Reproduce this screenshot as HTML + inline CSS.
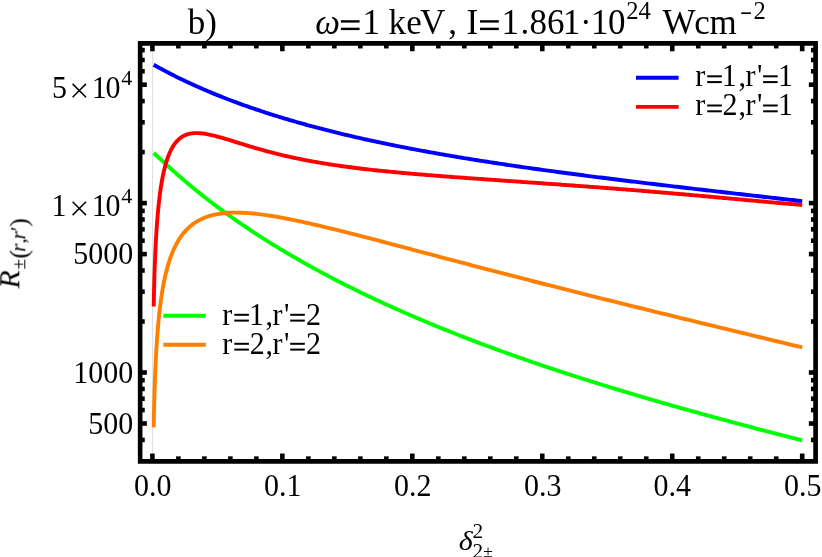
<!DOCTYPE html>
<html><head><meta charset="utf-8"><title>plot</title>
<style>html,body{margin:0;padding:0;background:#fff;}body{width:822px;height:557px;position:relative;overflow:hidden;font-family:"Liberation Serif",serif;}</style></head>
<body>
<svg width="822" height="557" viewBox="0 0 822 557" style="display:block;position:absolute;left:0;top:0">
<rect width="822" height="557" fill="#fff"/>
<line x1="152.6" y1="45" x2="152.6" y2="459" stroke="#dadada" stroke-width="0.9"/>
<path d="M153.70,153.29 L153.73,153.30 L153.75,153.32 L153.78,153.34 L153.81,153.36 L153.83,153.38 L153.86,153.40 L153.89,153.42 L153.92,153.44 L153.95,153.46 L153.98,153.48 L154.01,153.50 L154.05,153.53 L154.08,153.55 L154.11,153.57 L154.15,153.60 L154.18,153.63 L154.22,153.65 L154.25,153.68 L154.29,153.71 L154.33,153.73 L154.36,153.76 L154.40,153.79 L154.44,153.82 L154.48,153.86 L154.52,153.89 L154.57,153.92 L154.61,153.95 L154.65,153.99 L154.70,154.02 L154.74,154.06 L154.79,154.10 L154.84,154.14 L154.89,154.18 L154.94,154.22 L154.99,154.26 L155.04,154.30 L155.09,154.34 L155.14,154.39 L155.20,154.43 L155.25,154.48 L155.31,154.52 L155.37,154.57 L155.43,154.62 L155.49,154.67 L155.55,154.72 L155.61,154.78 L155.67,154.83 L155.74,154.89 L155.81,154.94 L155.87,155.00 L155.94,155.06 L156.01,155.12 L156.08,155.18 L156.16,155.25 L156.23,155.31 L156.31,155.38 L156.39,155.45 L156.46,155.52 L156.54,155.59 L156.63,155.66 L156.71,155.73 L156.80,155.81 L156.88,155.89 L156.97,155.96 L157.06,156.05 L157.16,156.13 L157.25,156.21 L157.35,156.30 L157.45,156.39 L157.55,156.48 L157.65,156.57 L157.75,156.66 L157.86,156.76 L157.97,156.86 L158.08,156.96 L158.19,157.06 L158.30,157.16 L158.42,157.27 L158.54,157.38 L158.66,157.49 L158.79,157.60 L158.91,157.72 L159.04,157.84 L159.18,157.96 L159.31,158.08 L159.45,158.21 L159.59,158.33 L159.73,158.47 L159.88,158.60 L160.02,158.74 L160.18,158.87 L160.33,159.02 L160.49,159.16 L160.65,159.31 L160.81,159.46 L160.98,159.61 L161.15,159.77 L161.32,159.93 L161.50,160.10 L161.68,160.26 L161.86,160.43 L162.05,160.61 L162.24,160.78 L162.44,160.96 L162.64,161.15 L162.84,161.34 L163.05,161.53 L163.26,161.72 L163.48,161.92 L163.70,162.13 L163.92,162.33 L164.15,162.54 L164.38,162.76 L164.62,162.98 L164.86,163.20 L165.11,163.43 L165.36,163.66 L165.62,163.90 L165.88,164.14 L166.15,164.39 L166.42,164.64 L166.70,164.89 L166.99,165.15 L167.28,165.42 L167.57,165.69 L167.87,165.96 L168.18,166.24 L168.49,166.53 L168.81,166.82 L169.14,167.12 L169.47,167.42 L169.81,167.73 L170.15,168.04 L170.51,168.36 L170.87,168.69 L171.23,169.02 L171.61,169.36 L171.99,169.70 L172.38,170.05 L172.77,170.41 L173.18,170.77 L173.59,171.14 L174.01,171.51 L174.44,171.90 L174.88,172.29 L175.32,172.68 L175.78,173.09 L176.24,173.50 L176.72,173.92 L177.20,174.34 L177.69,174.78 L178.19,175.22 L178.71,175.67 L179.23,176.12 L179.76,176.59 L180.30,177.06 L180.86,177.54 L181.42,178.03 L182.00,178.53 L182.59,179.04 L183.19,179.55 L183.80,180.08 L184.42,180.61 L185.06,181.15 L185.70,181.70 L186.37,182.26 L187.04,182.83 L187.73,183.41 L188.43,184.00 L189.14,184.60 L189.87,185.21 L190.62,185.83 L191.38,186.46 L192.15,187.10 L192.94,187.75 L193.74,188.41 L194.57,189.09 L195.40,189.77 L196.26,190.46 L197.13,191.17 L198.01,191.89 L198.92,192.61 L199.84,193.35 L200.79,194.11 L201.75,194.87 L202.73,195.65 L203.73,196.43 L204.74,197.24 L205.78,198.05 L206.84,198.87 L207.92,199.71 L209.03,200.56 L210.15,201.43 L211.30,202.31 L212.47,203.20 L213.66,204.10 L214.87,205.02 L216.12,205.95 L217.38,206.90 L219.34,208.35 L221.29,209.80 L223.25,211.23 L225.20,212.65 L227.16,214.06 L229.12,215.46 L231.07,216.86 L233.03,218.24 L234.98,219.61 L236.94,220.98 L238.90,222.33 L240.85,223.67 L242.81,225.01 L244.76,226.34 L246.72,227.65 L248.67,228.96 L250.63,230.26 L252.59,231.56 L254.54,232.84 L256.50,234.12 L258.45,235.38 L260.41,236.64 L262.37,237.90 L264.32,239.14 L266.28,240.38 L268.23,241.60 L270.19,242.82 L272.15,244.04 L274.10,245.24 L276.06,246.44 L278.01,247.64 L279.97,248.82 L281.93,250.00 L283.88,251.17 L285.84,252.33 L287.79,253.49 L289.75,254.64 L291.70,255.78 L293.66,256.92 L295.62,258.05 L297.57,259.18 L299.53,260.30 L301.48,261.41 L303.44,262.51 L305.40,263.61 L307.35,264.71 L309.31,265.80 L311.26,266.88 L313.22,267.96 L315.18,269.03 L317.13,270.09 L319.09,271.15 L321.04,272.20 L323.00,273.25 L324.96,274.29 L326.91,275.33 L328.87,276.36 L330.82,277.39 L332.78,278.41 L334.74,279.43 L336.69,280.44 L338.65,281.44 L340.60,282.44 L342.56,283.44 L344.51,284.43 L346.47,285.42 L348.43,286.40 L350.38,287.37 L352.34,288.34 L354.29,289.31 L356.25,290.27 L358.21,291.23 L360.16,292.18 L362.12,293.13 L364.07,294.08 L366.03,295.01 L367.99,295.95 L369.94,296.88 L371.90,297.81 L373.85,298.73 L375.81,299.65 L377.77,300.56 L379.72,301.47 L381.68,302.37 L383.63,303.27 L385.59,304.17 L387.55,305.06 L389.50,305.95 L391.46,306.84 L393.41,307.72 L395.37,308.60 L397.32,309.47 L399.28,310.34 L401.24,311.21 L403.19,312.07 L405.15,312.93 L407.10,313.78 L409.06,314.63 L411.02,315.48 L412.97,316.32 L414.93,317.16 L416.88,318.00 L418.84,318.83 L420.80,319.66 L422.75,320.49 L424.71,321.31 L426.66,322.13 L428.62,322.95 L430.58,323.76 L432.53,324.57 L434.49,325.38 L436.44,326.18 L438.40,326.98 L440.35,327.78 L442.31,328.57 L444.27,329.36 L446.22,330.15 L448.18,330.93 L450.13,331.71 L452.09,332.49 L454.05,333.27 L456.00,334.04 L457.96,334.81 L459.91,335.57 L461.87,336.34 L463.83,337.10 L465.78,337.85 L467.74,338.61 L469.69,339.36 L471.65,340.11 L473.61,340.86 L475.56,341.60 L477.52,342.34 L479.47,343.08 L481.43,343.82 L483.39,344.55 L485.34,345.28 L487.30,346.01 L489.25,346.73 L491.21,347.45 L493.16,348.17 L495.12,348.89 L497.08,349.61 L499.03,350.32 L500.99,351.03 L502.94,351.74 L504.90,352.44 L506.86,353.15 L508.81,353.85 L510.77,354.54 L512.72,355.24 L514.68,355.93 L516.64,356.62 L518.59,357.31 L520.55,358.00 L522.50,358.68 L524.46,359.37 L526.42,360.05 L528.37,360.72 L530.33,361.40 L532.28,362.07 L534.24,362.74 L536.19,363.41 L538.15,364.08 L540.11,364.74 L542.06,365.41 L544.02,366.07 L545.97,366.73 L547.93,367.38 L549.89,368.04 L551.84,368.69 L553.80,369.34 L555.75,369.99 L557.71,370.64 L559.67,371.28 L561.62,371.92 L563.58,372.56 L565.53,373.20 L567.49,373.84 L569.45,374.48 L571.40,375.11 L573.36,375.74 L575.31,376.37 L577.27,377.00 L579.23,377.62 L581.18,378.25 L583.14,378.87 L585.09,379.49 L587.05,380.11 L589.00,380.73 L590.96,381.35 L592.92,381.96 L594.87,382.57 L596.83,383.18 L598.78,383.79 L600.74,384.40 L602.70,385.01 L604.65,385.61 L606.61,386.21 L608.56,386.82 L610.52,387.42 L612.48,388.01 L614.43,388.61 L616.39,389.21 L618.34,389.80 L620.30,390.39 L622.26,390.98 L624.21,391.57 L626.17,392.16 L628.12,392.74 L630.08,393.33 L632.03,393.91 L633.99,394.50 L635.95,395.08 L637.90,395.65 L639.86,396.23 L641.81,396.81 L643.77,397.38 L645.73,397.96 L647.68,398.53 L649.64,399.10 L651.59,399.67 L653.55,400.24 L655.51,400.81 L657.46,401.37 L659.42,401.94 L661.37,402.50 L663.33,403.06 L665.29,403.62 L667.24,404.18 L669.20,404.74 L671.15,405.30 L673.11,405.86 L675.07,406.41 L677.02,406.97 L678.98,407.52 L680.93,408.07 L682.89,408.62 L684.84,409.17 L686.80,409.72 L688.76,410.27 L690.71,410.81 L692.67,411.36 L694.62,411.90 L696.58,412.44 L698.54,412.98 L700.49,413.52 L702.45,414.06 L704.40,414.60 L706.36,415.14 L708.32,415.68 L710.27,416.21 L712.23,416.75 L714.18,417.28 L716.14,417.81 L718.10,418.35 L720.05,418.88 L722.01,419.41 L723.96,419.93 L725.92,420.46 L727.88,420.99 L729.83,421.52 L731.79,422.04 L733.74,422.57 L735.70,423.09 L737.65,423.61 L739.61,424.13 L741.57,424.65 L743.52,425.17 L745.48,425.69 L747.43,426.21 L749.39,426.73 L751.35,427.25 L753.30,427.76 L755.26,428.28 L757.21,428.79 L759.17,429.31 L761.13,429.82 L763.08,430.33 L765.04,430.84 L766.99,431.35 L768.95,431.86 L770.91,432.37 L772.86,432.88 L774.82,433.39 L776.77,433.89 L778.73,434.40 L780.68,434.91 L782.64,435.41 L784.60,435.91 L786.55,436.42 L788.51,436.92 L790.46,437.42 L792.42,437.92 L794.38,438.43 L796.33,438.93 L798.29,439.43 L800.24,439.92 L802.20,440.42" fill="none" stroke="#00ff00" stroke-width="3.9" stroke-linejoin="round"/>
<path d="M153.70,427.40 L153.73,426.00 L153.75,424.60 L153.78,423.20 L153.81,421.81 L153.83,420.41 L153.86,419.01 L153.89,417.62 L153.92,416.23 L153.95,414.83 L153.98,413.44 L154.01,412.05 L154.05,410.66 L154.08,409.27 L154.11,407.88 L154.15,406.50 L154.18,405.11 L154.22,403.73 L154.25,402.34 L154.29,400.96 L154.33,399.58 L154.36,398.20 L154.40,396.82 L154.44,395.44 L154.48,394.06 L154.52,392.68 L154.57,391.31 L154.61,389.94 L154.65,388.56 L154.70,387.19 L154.74,385.82 L154.79,384.45 L154.84,383.09 L154.89,381.72 L154.94,380.36 L154.99,378.99 L155.04,377.63 L155.09,376.27 L155.14,374.91 L155.20,373.56 L155.25,372.20 L155.31,370.85 L155.37,369.49 L155.43,368.14 L155.49,366.79 L155.55,365.45 L155.61,364.10 L155.67,362.76 L155.74,361.41 L155.81,360.07 L155.87,358.73 L155.94,357.40 L156.01,356.06 L156.08,354.73 L156.16,353.40 L156.23,352.07 L156.31,350.74 L156.39,349.42 L156.46,348.09 L156.54,346.77 L156.63,345.45 L156.71,344.14 L156.80,342.82 L156.88,341.51 L156.97,340.20 L157.06,338.90 L157.16,337.59 L157.25,336.29 L157.35,334.99 L157.45,333.69 L157.55,332.40 L157.65,331.10 L157.75,329.81 L157.86,328.53 L157.97,327.24 L158.08,325.96 L158.19,324.68 L158.30,323.41 L158.42,322.14 L158.54,320.87 L158.66,319.60 L158.79,318.34 L158.91,317.08 L159.04,315.82 L159.18,314.56 L159.31,313.31 L159.45,312.07 L159.59,310.82 L159.73,309.58 L159.88,308.35 L160.02,307.11 L160.18,305.88 L160.33,304.66 L160.49,303.43 L160.65,302.22 L160.81,301.00 L160.98,299.79 L161.15,298.59 L161.32,297.38 L161.50,296.19 L161.68,294.99 L161.86,293.80 L162.05,292.62 L162.24,291.44 L162.44,290.26 L162.64,289.09 L162.84,287.92 L163.05,286.76 L163.26,285.60 L163.48,284.45 L163.70,283.30 L163.92,282.16 L164.15,281.02 L164.38,279.89 L164.62,278.76 L164.86,277.64 L165.11,276.53 L165.36,275.42 L165.62,274.31 L165.88,273.21 L166.15,272.12 L166.42,271.03 L166.70,269.95 L166.99,268.88 L167.28,267.81 L167.57,266.74 L167.87,265.69 L168.18,264.64 L168.49,263.59 L168.81,262.56 L169.14,261.53 L169.47,260.51 L169.81,259.49 L170.15,258.48 L170.51,257.48 L170.87,256.49 L171.23,255.50 L171.61,254.52 L171.99,253.55 L172.38,252.59 L172.77,251.63 L173.18,250.68 L173.59,249.74 L174.01,248.81 L174.44,247.89 L174.88,246.97 L175.32,246.07 L175.78,245.17 L176.24,244.28 L176.72,243.41 L177.20,242.54 L177.69,241.67 L178.19,240.82 L178.71,239.98 L179.23,239.15 L179.76,238.33 L180.30,237.52 L180.86,236.71 L181.42,235.92 L182.00,235.14 L182.59,234.37 L183.19,233.61 L183.80,232.86 L184.42,232.12 L185.06,231.39 L185.70,230.68 L186.37,229.97 L187.04,229.28 L187.73,228.59 L188.43,227.92 L189.14,227.27 L189.87,226.62 L190.62,225.99 L191.38,225.37 L192.15,224.76 L192.94,224.16 L193.74,223.58 L194.57,223.01 L195.40,222.45 L196.26,221.91 L197.13,221.38 L198.01,220.87 L198.92,220.36 L199.84,219.88 L200.79,219.40 L201.75,218.94 L202.73,218.50 L203.73,218.07 L204.74,217.66 L205.78,217.26 L206.84,216.87 L207.92,216.50 L209.03,216.15 L210.15,215.81 L211.30,215.49 L212.47,215.19 L213.66,214.90 L214.87,214.63 L216.12,214.37 L217.38,214.13 L219.34,213.80 L221.29,213.52 L223.25,213.28 L225.20,213.09 L227.16,212.93 L229.12,212.81 L231.07,212.72 L233.03,212.66 L234.98,212.64 L236.94,212.64 L238.90,212.67 L240.85,212.72 L242.81,212.80 L244.76,212.89 L246.72,213.01 L248.67,213.15 L250.63,213.31 L252.59,213.49 L254.54,213.68 L256.50,213.89 L258.45,214.11 L260.41,214.35 L262.37,214.60 L264.32,214.87 L266.28,215.14 L268.23,215.43 L270.19,215.73 L272.15,216.04 L274.10,216.37 L276.06,216.70 L278.01,217.04 L279.97,217.38 L281.93,217.74 L283.88,218.11 L285.84,218.48 L287.79,218.86 L289.75,219.24 L291.70,219.64 L293.66,220.04 L295.62,220.44 L297.57,220.85 L299.53,221.27 L301.48,221.69 L303.44,222.12 L305.40,222.55 L307.35,222.99 L309.31,223.43 L311.26,223.87 L313.22,224.32 L315.18,224.77 L317.13,225.23 L319.09,225.69 L321.04,226.15 L323.00,226.61 L324.96,227.08 L326.91,227.55 L328.87,228.03 L330.82,228.51 L332.78,228.98 L334.74,229.47 L336.69,229.95 L338.65,230.44 L340.60,230.92 L342.56,231.41 L344.51,231.91 L346.47,232.40 L348.43,232.89 L350.38,233.39 L352.34,233.89 L354.29,234.39 L356.25,234.89 L358.21,235.39 L360.16,235.90 L362.12,236.40 L364.07,236.91 L366.03,237.41 L367.99,237.92 L369.94,238.43 L371.90,238.94 L373.85,239.45 L375.81,239.96 L377.77,240.47 L379.72,240.99 L381.68,241.50 L383.63,242.01 L385.59,242.53 L387.55,243.04 L389.50,243.56 L391.46,244.07 L393.41,244.59 L395.37,245.10 L397.32,245.62 L399.28,246.14 L401.24,246.65 L403.19,247.17 L405.15,247.69 L407.10,248.21 L409.06,248.72 L411.02,249.24 L412.97,249.76 L414.93,250.28 L416.88,250.80 L418.84,251.31 L420.80,251.83 L422.75,252.35 L424.71,252.87 L426.66,253.39 L428.62,253.91 L430.58,254.42 L432.53,254.94 L434.49,255.46 L436.44,255.98 L438.40,256.49 L440.35,257.01 L442.31,257.53 L444.27,258.04 L446.22,258.56 L448.18,259.08 L450.13,259.59 L452.09,260.11 L454.05,260.63 L456.00,261.14 L457.96,261.66 L459.91,262.17 L461.87,262.69 L463.83,263.20 L465.78,263.72 L467.74,264.23 L469.69,264.74 L471.65,265.26 L473.61,265.77 L475.56,266.28 L477.52,266.79 L479.47,267.31 L481.43,267.82 L483.39,268.33 L485.34,268.84 L487.30,269.35 L489.25,269.86 L491.21,270.37 L493.16,270.88 L495.12,271.39 L497.08,271.90 L499.03,272.41 L500.99,272.91 L502.94,273.42 L504.90,273.93 L506.86,274.43 L508.81,274.94 L510.77,275.45 L512.72,275.95 L514.68,276.46 L516.64,276.96 L518.59,277.47 L520.55,277.97 L522.50,278.47 L524.46,278.98 L526.42,279.48 L528.37,279.98 L530.33,280.48 L532.28,280.99 L534.24,281.49 L536.19,281.99 L538.15,282.49 L540.11,282.99 L542.06,283.49 L544.02,283.99 L545.97,284.49 L547.93,284.98 L549.89,285.48 L551.84,285.98 L553.80,286.48 L555.75,286.97 L557.71,287.47 L559.67,287.97 L561.62,288.46 L563.58,288.96 L565.53,289.45 L567.49,289.95 L569.45,290.44 L571.40,290.93 L573.36,291.43 L575.31,291.92 L577.27,292.41 L579.23,292.90 L581.18,293.40 L583.14,293.89 L585.09,294.38 L587.05,294.87 L589.00,295.36 L590.96,295.85 L592.92,296.34 L594.87,296.83 L596.83,297.32 L598.78,297.81 L600.74,298.29 L602.70,298.78 L604.65,299.27 L606.61,299.76 L608.56,300.24 L610.52,300.73 L612.48,301.22 L614.43,301.70 L616.39,302.19 L618.34,302.67 L620.30,303.16 L622.26,303.64 L624.21,304.13 L626.17,304.61 L628.12,305.10 L630.08,305.58 L632.03,306.06 L633.99,306.54 L635.95,307.03 L637.90,307.51 L639.86,307.99 L641.81,308.47 L643.77,308.95 L645.73,309.44 L647.68,309.92 L649.64,310.40 L651.59,310.88 L653.55,311.36 L655.51,311.84 L657.46,312.32 L659.42,312.80 L661.37,313.28 L663.33,313.75 L665.29,314.23 L667.24,314.71 L669.20,315.19 L671.15,315.67 L673.11,316.15 L675.07,316.62 L677.02,317.10 L678.98,317.58 L680.93,318.05 L682.89,318.53 L684.84,319.01 L686.80,319.48 L688.76,319.96 L690.71,320.44 L692.67,320.91 L694.62,321.39 L696.58,321.86 L698.54,322.34 L700.49,322.81 L702.45,323.29 L704.40,323.76 L706.36,324.24 L708.32,324.71 L710.27,325.19 L712.23,325.66 L714.18,326.13 L716.14,326.61 L718.10,327.08 L720.05,327.56 L722.01,328.03 L723.96,328.50 L725.92,328.98 L727.88,329.45 L729.83,329.92 L731.79,330.39 L733.74,330.87 L735.70,331.34 L737.65,331.81 L739.61,332.29 L741.57,332.76 L743.52,333.23 L745.48,333.70 L747.43,334.18 L749.39,334.65 L751.35,335.12 L753.30,335.59 L755.26,336.06 L757.21,336.54 L759.17,337.01 L761.13,337.48 L763.08,337.95 L765.04,338.43 L766.99,338.90 L768.95,339.37 L770.91,339.84 L772.86,340.31 L774.82,340.79 L776.77,341.26 L778.73,341.73 L780.68,342.20 L782.64,342.67 L784.60,343.15 L786.55,343.62 L788.51,344.09 L790.46,344.56 L792.42,345.03 L794.38,345.51 L796.33,345.98 L798.29,346.45 L800.24,346.92 L802.20,347.40" fill="none" stroke="#ff8000" stroke-width="3.9" stroke-linejoin="round"/>
<path d="M153.70,306.50 L153.73,305.17 L153.75,303.84 L153.78,302.51 L153.81,301.19 L153.83,299.86 L153.86,298.53 L153.89,297.21 L153.92,295.89 L153.95,294.56 L153.98,293.24 L154.01,291.92 L154.05,290.60 L154.08,289.28 L154.11,287.97 L154.15,286.65 L154.18,285.34 L154.22,284.02 L154.25,282.71 L154.29,281.40 L154.33,280.09 L154.36,278.78 L154.40,277.47 L154.44,276.16 L154.48,274.86 L154.52,273.55 L154.57,272.25 L154.61,270.95 L154.65,269.65 L154.70,268.35 L154.74,267.05 L154.79,265.75 L154.84,264.46 L154.89,263.16 L154.94,261.87 L154.99,260.58 L155.04,259.29 L155.09,258.00 L155.14,256.72 L155.20,255.43 L155.25,254.15 L155.31,252.87 L155.37,251.59 L155.43,250.31 L155.49,249.04 L155.55,247.77 L155.61,246.49 L155.67,245.22 L155.74,243.96 L155.81,242.69 L155.87,241.43 L155.94,240.17 L156.01,238.91 L156.08,237.65 L156.16,236.39 L156.23,235.14 L156.31,233.89 L156.39,232.64 L156.46,231.40 L156.54,230.16 L156.63,228.92 L156.71,227.68 L156.80,226.44 L156.88,225.21 L156.97,223.98 L157.06,222.76 L157.16,221.53 L157.25,220.31 L157.35,219.10 L157.45,217.88 L157.55,216.67 L157.65,215.47 L157.75,214.26 L157.86,213.06 L157.97,211.86 L158.08,210.67 L158.19,209.48 L158.30,208.30 L158.42,207.12 L158.54,205.94 L158.66,204.76 L158.79,203.60 L158.91,202.43 L159.04,201.27 L159.18,200.11 L159.31,198.96 L159.45,197.82 L159.59,196.67 L159.73,195.54 L159.88,194.41 L160.02,193.28 L160.18,192.16 L160.33,191.04 L160.49,189.93 L160.65,188.83 L160.81,187.73 L160.98,186.64 L161.15,185.55 L161.32,184.47 L161.50,183.39 L161.68,182.33 L161.86,181.26 L162.05,180.21 L162.24,179.16 L162.44,178.12 L162.64,177.09 L162.84,176.06 L163.05,175.04 L163.26,174.03 L163.48,173.03 L163.70,172.03 L163.92,171.04 L164.15,170.07 L164.38,169.10 L164.62,168.13 L164.86,167.18 L165.11,166.24 L165.36,165.30 L165.62,164.38 L165.88,163.46 L166.15,162.55 L166.42,161.66 L166.70,160.77 L166.99,159.90 L167.28,159.03 L167.57,158.17 L167.87,157.33 L168.18,156.50 L168.49,155.68 L168.81,154.87 L169.14,154.07 L169.47,153.28 L169.81,152.50 L170.15,151.74 L170.51,150.99 L170.87,150.25 L171.23,149.53 L171.61,148.82 L171.99,148.12 L172.38,147.43 L172.77,146.76 L173.18,146.10 L173.59,145.46 L174.01,144.83 L174.44,144.22 L174.88,143.62 L175.32,143.03 L175.78,142.46 L176.24,141.90 L176.72,141.36 L177.20,140.84 L177.69,140.33 L178.19,139.84 L178.71,139.36 L179.23,138.90 L179.76,138.46 L180.30,138.03 L180.86,137.62 L181.42,137.22 L182.00,136.85 L182.59,136.49 L183.19,136.15 L183.80,135.82 L184.42,135.51 L185.06,135.22 L185.70,134.95 L186.37,134.70 L187.04,134.46 L187.73,134.25 L188.43,134.05 L189.14,133.87 L189.87,133.71 L190.62,133.56 L191.38,133.44 L192.15,133.33 L192.94,133.24 L193.74,133.17 L194.57,133.12 L195.40,133.09 L196.26,133.08 L197.13,133.08 L198.01,133.10 L198.92,133.15 L199.84,133.21 L200.79,133.28 L201.75,133.38 L202.73,133.50 L203.73,133.63 L204.74,133.78 L205.78,133.95 L206.84,134.14 L207.92,134.34 L209.03,134.56 L210.15,134.80 L211.30,135.06 L212.47,135.33 L213.66,135.62 L214.87,135.92 L216.12,136.24 L217.38,136.58 L219.34,137.11 L221.29,137.67 L223.25,138.23 L225.20,138.81 L227.16,139.40 L229.12,139.99 L231.07,140.59 L233.03,141.20 L234.98,141.80 L236.94,142.41 L238.90,143.02 L240.85,143.62 L242.81,144.22 L244.76,144.82 L246.72,145.42 L248.67,146.01 L250.63,146.60 L252.59,147.18 L254.54,147.76 L256.50,148.33 L258.45,148.89 L260.41,149.45 L262.37,149.99 L264.32,150.54 L266.28,151.07 L268.23,151.60 L270.19,152.12 L272.15,152.63 L274.10,153.13 L276.06,153.63 L278.01,154.11 L279.97,154.59 L281.93,155.06 L283.88,155.53 L285.84,155.98 L287.79,156.43 L289.75,156.87 L291.70,157.31 L293.66,157.73 L295.62,158.15 L297.57,158.56 L299.53,158.96 L301.48,159.36 L303.44,159.75 L305.40,160.13 L307.35,160.51 L309.31,160.88 L311.26,161.24 L313.22,161.59 L315.18,161.94 L317.13,162.29 L319.09,162.62 L321.04,162.95 L323.00,163.28 L324.96,163.60 L326.91,163.91 L328.87,164.22 L330.82,164.52 L332.78,164.82 L334.74,165.12 L336.69,165.40 L338.65,165.69 L340.60,165.96 L342.56,166.24 L344.51,166.51 L346.47,166.77 L348.43,167.03 L350.38,167.29 L352.34,167.54 L354.29,167.79 L356.25,168.03 L358.21,168.27 L360.16,168.51 L362.12,168.74 L364.07,168.97 L366.03,169.19 L367.99,169.42 L369.94,169.64 L371.90,169.85 L373.85,170.07 L375.81,170.28 L377.77,170.48 L379.72,170.69 L381.68,170.89 L383.63,171.09 L385.59,171.29 L387.55,171.48 L389.50,171.68 L391.46,171.87 L393.41,172.05 L395.37,172.24 L397.32,172.42 L399.28,172.60 L401.24,172.78 L403.19,172.96 L405.15,173.14 L407.10,173.31 L409.06,173.48 L411.02,173.65 L412.97,173.82 L414.93,173.99 L416.88,174.16 L418.84,174.32 L420.80,174.48 L422.75,174.64 L424.71,174.81 L426.66,174.96 L428.62,175.12 L430.58,175.28 L432.53,175.43 L434.49,175.59 L436.44,175.74 L438.40,175.90 L440.35,176.05 L442.31,176.20 L444.27,176.35 L446.22,176.50 L448.18,176.64 L450.13,176.79 L452.09,176.94 L454.05,177.08 L456.00,177.23 L457.96,177.37 L459.91,177.52 L461.87,177.66 L463.83,177.80 L465.78,177.95 L467.74,178.09 L469.69,178.23 L471.65,178.37 L473.61,178.51 L475.56,178.65 L477.52,178.79 L479.47,178.93 L481.43,179.07 L483.39,179.21 L485.34,179.34 L487.30,179.48 L489.25,179.62 L491.21,179.76 L493.16,179.90 L495.12,180.03 L497.08,180.17 L499.03,180.31 L500.99,180.44 L502.94,180.58 L504.90,180.72 L506.86,180.85 L508.81,180.99 L510.77,181.12 L512.72,181.26 L514.68,181.40 L516.64,181.53 L518.59,181.67 L520.55,181.81 L522.50,181.94 L524.46,182.08 L526.42,182.22 L528.37,182.35 L530.33,182.49 L532.28,182.63 L534.24,182.76 L536.19,182.90 L538.15,183.04 L540.11,183.17 L542.06,183.31 L544.02,183.45 L545.97,183.59 L547.93,183.73 L549.89,183.86 L551.84,184.00 L553.80,184.14 L555.75,184.28 L557.71,184.42 L559.67,184.56 L561.62,184.70 L563.58,184.84 L565.53,184.98 L567.49,185.12 L569.45,185.26 L571.40,185.41 L573.36,185.55 L575.31,185.69 L577.27,185.83 L579.23,185.98 L581.18,186.12 L583.14,186.27 L585.09,186.41 L587.05,186.55 L589.00,186.70 L590.96,186.85 L592.92,186.99 L594.87,187.14 L596.83,187.29 L598.78,187.43 L600.74,187.58 L602.70,187.73 L604.65,187.88 L606.61,188.03 L608.56,188.18 L610.52,188.33 L612.48,188.48 L614.43,188.63 L616.39,188.78 L618.34,188.94 L620.30,189.09 L622.26,189.24 L624.21,189.40 L626.17,189.55 L628.12,189.71 L630.08,189.86 L632.03,190.02 L633.99,190.18 L635.95,190.33 L637.90,190.49 L639.86,190.65 L641.81,190.81 L643.77,190.97 L645.73,191.13 L647.68,191.29 L649.64,191.45 L651.59,191.62 L653.55,191.78 L655.51,191.94 L657.46,192.11 L659.42,192.27 L661.37,192.44 L663.33,192.60 L665.29,192.77 L667.24,192.93 L669.20,193.10 L671.15,193.27 L673.11,193.44 L675.07,193.61 L677.02,193.77 L678.98,193.94 L680.93,194.11 L682.89,194.29 L684.84,194.46 L686.80,194.63 L688.76,194.80 L690.71,194.97 L692.67,195.15 L694.62,195.32 L696.58,195.49 L698.54,195.67 L700.49,195.84 L702.45,196.02 L704.40,196.20 L706.36,196.37 L708.32,196.55 L710.27,196.73 L712.23,196.90 L714.18,197.08 L716.14,197.26 L718.10,197.44 L720.05,197.61 L722.01,197.79 L723.96,197.97 L725.92,198.15 L727.88,198.33 L729.83,198.51 L731.79,198.69 L733.74,198.87 L735.70,199.05 L737.65,199.23 L739.61,199.41 L741.57,199.59 L743.52,199.77 L745.48,199.95 L747.43,200.13 L749.39,200.30 L751.35,200.48 L753.30,200.66 L755.26,200.84 L757.21,201.02 L759.17,201.20 L761.13,201.38 L763.08,201.55 L765.04,201.73 L766.99,201.91 L768.95,202.08 L770.91,202.26 L772.86,202.43 L774.82,202.61 L776.77,202.78 L778.73,202.95 L780.68,203.13 L782.64,203.30 L784.60,203.47 L786.55,203.64 L788.51,203.81 L790.46,203.97 L792.42,204.14 L794.38,204.30 L796.33,204.47 L798.29,204.63 L800.24,204.79 L802.20,204.95" fill="none" stroke="#ff0000" stroke-width="3.9" stroke-linejoin="round"/>
<path d="M153.70,64.89 L153.73,64.90 L153.75,64.91 L153.78,64.92 L153.81,64.94 L153.83,64.95 L153.86,64.97 L153.89,64.98 L153.92,65.00 L153.95,65.01 L153.98,65.03 L154.01,65.04 L154.05,65.06 L154.08,65.08 L154.11,65.09 L154.15,65.11 L154.18,65.13 L154.22,65.15 L154.25,65.17 L154.29,65.19 L154.33,65.21 L154.36,65.23 L154.40,65.25 L154.44,65.27 L154.48,65.29 L154.52,65.31 L154.57,65.33 L154.61,65.35 L154.65,65.38 L154.70,65.40 L154.74,65.42 L154.79,65.45 L154.84,65.47 L154.89,65.50 L154.94,65.53 L154.99,65.55 L155.04,65.58 L155.09,65.61 L155.14,65.64 L155.20,65.66 L155.25,65.69 L155.31,65.72 L155.37,65.75 L155.43,65.79 L155.49,65.82 L155.55,65.85 L155.61,65.88 L155.67,65.92 L155.74,65.95 L155.81,65.99 L155.87,66.03 L155.94,66.06 L156.01,66.10 L156.08,66.14 L156.16,66.18 L156.23,66.22 L156.31,66.26 L156.39,66.30 L156.46,66.34 L156.54,66.39 L156.63,66.43 L156.71,66.48 L156.80,66.52 L156.88,66.57 L156.97,66.62 L157.06,66.67 L157.16,66.72 L157.25,66.77 L157.35,66.82 L157.45,66.87 L157.55,66.93 L157.65,66.98 L157.75,67.04 L157.86,67.10 L157.97,67.15 L158.08,67.21 L158.19,67.27 L158.30,67.34 L158.42,67.40 L158.54,67.47 L158.66,67.53 L158.79,67.60 L158.91,67.67 L159.04,67.74 L159.18,67.81 L159.31,67.88 L159.45,67.95 L159.59,68.03 L159.73,68.11 L159.88,68.19 L160.02,68.27 L160.18,68.35 L160.33,68.43 L160.49,68.51 L160.65,68.60 L160.81,68.69 L160.98,68.78 L161.15,68.87 L161.32,68.96 L161.50,69.06 L161.68,69.16 L161.86,69.25 L162.05,69.35 L162.24,69.46 L162.44,69.56 L162.64,69.67 L162.84,69.78 L163.05,69.89 L163.26,70.00 L163.48,70.11 L163.70,70.23 L163.92,70.35 L164.15,70.47 L164.38,70.59 L164.62,70.72 L164.86,70.85 L165.11,70.98 L165.36,71.11 L165.62,71.25 L165.88,71.39 L166.15,71.53 L166.42,71.67 L166.70,71.82 L166.99,71.96 L167.28,72.12 L167.57,72.27 L167.87,72.43 L168.18,72.59 L168.49,72.75 L168.81,72.91 L169.14,73.08 L169.47,73.25 L169.81,73.43 L170.15,73.61 L170.51,73.79 L170.87,73.97 L171.23,74.16 L171.61,74.35 L171.99,74.54 L172.38,74.74 L172.77,74.94 L173.18,75.15 L173.59,75.36 L174.01,75.57 L174.44,75.78 L174.88,76.00 L175.32,76.23 L175.78,76.45 L176.24,76.69 L176.72,76.92 L177.20,77.16 L177.69,77.40 L178.19,77.65 L178.71,77.90 L179.23,78.16 L179.76,78.42 L180.30,78.68 L180.86,78.95 L181.42,79.23 L182.00,79.51 L182.59,79.79 L183.19,80.08 L183.80,80.37 L184.42,80.67 L185.06,80.97 L185.70,81.28 L186.37,81.59 L187.04,81.91 L187.73,82.23 L188.43,82.56 L189.14,82.89 L189.87,83.23 L190.62,83.57 L191.38,83.92 L192.15,84.27 L192.94,84.64 L193.74,85.00 L194.57,85.37 L195.40,85.75 L196.26,86.13 L197.13,86.52 L198.01,86.92 L198.92,87.32 L199.84,87.73 L200.79,88.14 L201.75,88.56 L202.73,88.98 L203.73,89.42 L204.74,89.86 L205.78,90.30 L206.84,90.75 L207.92,91.21 L209.03,91.67 L210.15,92.15 L211.30,92.62 L212.47,93.11 L213.66,93.60 L214.87,94.10 L216.12,94.60 L217.38,95.12 L219.34,95.90 L221.29,96.68 L223.25,97.45 L225.20,98.22 L227.16,98.97 L229.12,99.72 L231.07,100.47 L233.03,101.21 L234.98,101.94 L236.94,102.66 L238.90,103.38 L240.85,104.09 L242.81,104.79 L244.76,105.49 L246.72,106.19 L248.67,106.87 L250.63,107.55 L252.59,108.23 L254.54,108.90 L256.50,109.56 L258.45,110.22 L260.41,110.87 L262.37,111.52 L264.32,112.16 L266.28,112.80 L268.23,113.43 L270.19,114.06 L272.15,114.68 L274.10,115.29 L276.06,115.90 L278.01,116.51 L279.97,117.11 L281.93,117.71 L283.88,118.30 L285.84,118.88 L287.79,119.47 L289.75,120.04 L291.70,120.62 L293.66,121.18 L295.62,121.75 L297.57,122.31 L299.53,122.86 L301.48,123.41 L303.44,123.96 L305.40,124.50 L307.35,125.04 L309.31,125.57 L311.26,126.10 L313.22,126.63 L315.18,127.15 L317.13,127.67 L319.09,128.18 L321.04,128.70 L323.00,129.20 L324.96,129.70 L326.91,130.20 L328.87,130.70 L330.82,131.19 L332.78,131.68 L334.74,132.17 L336.69,132.65 L338.65,133.12 L340.60,133.60 L342.56,134.07 L344.51,134.54 L346.47,135.00 L348.43,135.46 L350.38,135.92 L352.34,136.38 L354.29,136.83 L356.25,137.28 L358.21,137.72 L360.16,138.17 L362.12,138.61 L364.07,139.04 L366.03,139.48 L367.99,139.91 L369.94,140.33 L371.90,140.76 L373.85,141.18 L375.81,141.60 L377.77,142.02 L379.72,142.43 L381.68,142.84 L383.63,143.25 L385.59,143.66 L387.55,144.06 L389.50,144.46 L391.46,144.86 L393.41,145.26 L395.37,145.65 L397.32,146.04 L399.28,146.43 L401.24,146.81 L403.19,147.20 L405.15,147.58 L407.10,147.96 L409.06,148.34 L411.02,148.71 L412.97,149.08 L414.93,149.45 L416.88,149.82 L418.84,150.19 L420.80,150.55 L422.75,150.91 L424.71,151.27 L426.66,151.63 L428.62,151.98 L430.58,152.34 L432.53,152.69 L434.49,153.04 L436.44,153.38 L438.40,153.73 L440.35,154.07 L442.31,154.41 L444.27,154.75 L446.22,155.09 L448.18,155.43 L450.13,155.76 L452.09,156.10 L454.05,156.43 L456.00,156.76 L457.96,157.08 L459.91,157.41 L461.87,157.73 L463.83,158.06 L465.78,158.38 L467.74,158.70 L469.69,159.01 L471.65,159.33 L473.61,159.64 L475.56,159.96 L477.52,160.27 L479.47,160.58 L481.43,160.89 L483.39,161.19 L485.34,161.50 L487.30,161.80 L489.25,162.11 L491.21,162.41 L493.16,162.71 L495.12,163.01 L497.08,163.30 L499.03,163.60 L500.99,163.90 L502.94,164.19 L504.90,164.48 L506.86,164.77 L508.81,165.06 L510.77,165.35 L512.72,165.64 L514.68,165.92 L516.64,166.21 L518.59,166.49 L520.55,166.78 L522.50,167.06 L524.46,167.34 L526.42,167.62 L528.37,167.90 L530.33,168.17 L532.28,168.45 L534.24,168.72 L536.19,169.00 L538.15,169.27 L540.11,169.54 L542.06,169.81 L544.02,170.08 L545.97,170.35 L547.93,170.62 L549.89,170.89 L551.84,171.16 L553.80,171.42 L555.75,171.69 L557.71,171.95 L559.67,172.21 L561.62,172.47 L563.58,172.74 L565.53,173.00 L567.49,173.26 L569.45,173.51 L571.40,173.77 L573.36,174.03 L575.31,174.29 L577.27,174.54 L579.23,174.80 L581.18,175.05 L583.14,175.30 L585.09,175.56 L587.05,175.81 L589.00,176.06 L590.96,176.31 L592.92,176.56 L594.87,176.81 L596.83,177.06 L598.78,177.31 L600.74,177.55 L602.70,177.80 L604.65,178.05 L606.61,178.29 L608.56,178.54 L610.52,178.78 L612.48,179.03 L614.43,179.27 L616.39,179.51 L618.34,179.76 L620.30,180.00 L622.26,180.24 L624.21,180.48 L626.17,180.72 L628.12,180.96 L630.08,181.20 L632.03,181.44 L633.99,181.67 L635.95,181.91 L637.90,182.15 L639.86,182.39 L641.81,182.62 L643.77,182.86 L645.73,183.10 L647.68,183.33 L649.64,183.57 L651.59,183.80 L653.55,184.03 L655.51,184.27 L657.46,184.50 L659.42,184.73 L661.37,184.97 L663.33,185.20 L665.29,185.43 L667.24,185.66 L669.20,185.89 L671.15,186.12 L673.11,186.35 L675.07,186.58 L677.02,186.81 L678.98,187.04 L680.93,187.27 L682.89,187.50 L684.84,187.73 L686.80,187.96 L688.76,188.19 L690.71,188.42 L692.67,188.64 L694.62,188.87 L696.58,189.10 L698.54,189.33 L700.49,189.55 L702.45,189.78 L704.40,190.00 L706.36,190.23 L708.32,190.46 L710.27,190.68 L712.23,190.91 L714.18,191.13 L716.14,191.36 L718.10,191.58 L720.05,191.81 L722.01,192.03 L723.96,192.26 L725.92,192.48 L727.88,192.71 L729.83,192.93 L731.79,193.15 L733.74,193.38 L735.70,193.60 L737.65,193.82 L739.61,194.05 L741.57,194.27 L743.52,194.49 L745.48,194.72 L747.43,194.94 L749.39,195.16 L751.35,195.38 L753.30,195.61 L755.26,195.83 L757.21,196.05 L759.17,196.27 L761.13,196.50 L763.08,196.72 L765.04,196.94 L766.99,197.16 L768.95,197.38 L770.91,197.61 L772.86,197.83 L774.82,198.05 L776.77,198.27 L778.73,198.49 L780.68,198.71 L782.64,198.94 L784.60,199.16 L786.55,199.38 L788.51,199.60 L790.46,199.82 L792.42,200.04 L794.38,200.26 L796.33,200.48 L798.29,200.71 L800.24,200.93 L802.20,201.15" fill="none" stroke="#0000ff" stroke-width="3.9" stroke-linejoin="round"/>
<line x1="636" y1="77.7" x2="678.6" y2="77.7" stroke="#0000ff" stroke-width="3.9"/>
<line x1="636" y1="106.9" x2="678.6" y2="106.9" stroke="#ff0000" stroke-width="3.9"/>
<line x1="163.3" y1="315.8" x2="205.8" y2="315.8" stroke="#00ff00" stroke-width="3.9"/>
<line x1="163.3" y1="344.8" x2="205.8" y2="344.8" stroke="#ff8000" stroke-width="3.9"/>
<path fill-rule="evenodd" fill="#000" d="M137.85,41.05H817.95V463.85H137.85Z M142.45,45.85V458.95H813.25V45.85Z"/>
<g fill="#000"><rect x="150.10" y="453.55" width="4.6" height="6.4"/><rect x="150.10" y="44.85" width="4.6" height="6.4"/><rect x="176.09" y="456.35" width="4.6" height="3.6"/><rect x="176.09" y="44.85" width="4.6" height="3.6"/><rect x="202.08" y="456.35" width="4.6" height="3.6"/><rect x="202.08" y="44.85" width="4.6" height="3.6"/><rect x="228.08" y="456.35" width="4.6" height="3.6"/><rect x="228.08" y="44.85" width="4.6" height="3.6"/><rect x="254.07" y="456.35" width="4.6" height="3.6"/><rect x="254.07" y="44.85" width="4.6" height="3.6"/><rect x="280.06" y="453.55" width="4.6" height="6.4"/><rect x="280.06" y="44.85" width="4.6" height="6.4"/><rect x="306.05" y="456.35" width="4.6" height="3.6"/><rect x="306.05" y="44.85" width="4.6" height="3.6"/><rect x="332.04" y="456.35" width="4.6" height="3.6"/><rect x="332.04" y="44.85" width="4.6" height="3.6"/><rect x="358.04" y="456.35" width="4.6" height="3.6"/><rect x="358.04" y="44.85" width="4.6" height="3.6"/><rect x="384.03" y="456.35" width="4.6" height="3.6"/><rect x="384.03" y="44.85" width="4.6" height="3.6"/><rect x="410.02" y="453.55" width="4.6" height="6.4"/><rect x="410.02" y="44.85" width="4.6" height="6.4"/><rect x="436.01" y="456.35" width="4.6" height="3.6"/><rect x="436.01" y="44.85" width="4.6" height="3.6"/><rect x="462.00" y="456.35" width="4.6" height="3.6"/><rect x="462.00" y="44.85" width="4.6" height="3.6"/><rect x="488.00" y="456.35" width="4.6" height="3.6"/><rect x="488.00" y="44.85" width="4.6" height="3.6"/><rect x="513.99" y="456.35" width="4.6" height="3.6"/><rect x="513.99" y="44.85" width="4.6" height="3.6"/><rect x="539.98" y="453.55" width="4.6" height="6.4"/><rect x="539.98" y="44.85" width="4.6" height="6.4"/><rect x="565.97" y="456.35" width="4.6" height="3.6"/><rect x="565.97" y="44.85" width="4.6" height="3.6"/><rect x="591.96" y="456.35" width="4.6" height="3.6"/><rect x="591.96" y="44.85" width="4.6" height="3.6"/><rect x="617.96" y="456.35" width="4.6" height="3.6"/><rect x="617.96" y="44.85" width="4.6" height="3.6"/><rect x="643.95" y="456.35" width="4.6" height="3.6"/><rect x="643.95" y="44.85" width="4.6" height="3.6"/><rect x="669.94" y="453.55" width="4.6" height="6.4"/><rect x="669.94" y="44.85" width="4.6" height="6.4"/><rect x="695.93" y="456.35" width="4.6" height="3.6"/><rect x="695.93" y="44.85" width="4.6" height="3.6"/><rect x="721.92" y="456.35" width="4.6" height="3.6"/><rect x="721.92" y="44.85" width="4.6" height="3.6"/><rect x="747.92" y="456.35" width="4.6" height="3.6"/><rect x="747.92" y="44.85" width="4.6" height="3.6"/><rect x="773.91" y="456.35" width="4.6" height="3.6"/><rect x="773.91" y="44.85" width="4.6" height="3.6"/><rect x="799.90" y="453.55" width="4.6" height="6.4"/><rect x="799.90" y="44.85" width="4.6" height="6.4"/><rect x="141.45" y="437.61" width="3.3" height="4.6"/><rect x="810.95" y="437.61" width="3.3" height="4.6"/><rect x="141.45" y="421.19" width="5.4" height="4.6"/><rect x="808.85" y="421.19" width="5.4" height="4.6"/><rect x="141.45" y="407.78" width="3.3" height="4.6"/><rect x="810.95" y="407.78" width="3.3" height="4.6"/><rect x="141.45" y="396.44" width="3.3" height="4.6"/><rect x="810.95" y="396.44" width="3.3" height="4.6"/><rect x="141.45" y="386.62" width="3.3" height="4.6"/><rect x="810.95" y="386.62" width="3.3" height="4.6"/><rect x="141.45" y="377.95" width="3.3" height="4.6"/><rect x="810.95" y="377.95" width="3.3" height="4.6"/><rect x="141.45" y="370.20" width="5.4" height="4.6"/><rect x="808.85" y="370.20" width="5.4" height="4.6"/><rect x="141.45" y="319.21" width="3.3" height="4.6"/><rect x="810.95" y="319.21" width="3.3" height="4.6"/><rect x="141.45" y="289.38" width="3.3" height="4.6"/><rect x="810.95" y="289.38" width="3.3" height="4.6"/><rect x="141.45" y="268.21" width="3.3" height="4.6"/><rect x="810.95" y="268.21" width="3.3" height="4.6"/><rect x="141.45" y="251.79" width="5.4" height="4.6"/><rect x="808.85" y="251.79" width="5.4" height="4.6"/><rect x="141.45" y="238.38" width="3.3" height="4.6"/><rect x="810.95" y="238.38" width="3.3" height="4.6"/><rect x="141.45" y="227.04" width="3.3" height="4.6"/><rect x="810.95" y="227.04" width="3.3" height="4.6"/><rect x="141.45" y="217.22" width="3.3" height="4.6"/><rect x="810.95" y="217.22" width="3.3" height="4.6"/><rect x="141.45" y="208.55" width="3.3" height="4.6"/><rect x="810.95" y="208.55" width="3.3" height="4.6"/><rect x="141.45" y="200.80" width="5.4" height="4.6"/><rect x="808.85" y="200.80" width="5.4" height="4.6"/><rect x="141.45" y="149.81" width="3.3" height="4.6"/><rect x="810.95" y="149.81" width="3.3" height="4.6"/><rect x="141.45" y="119.98" width="3.3" height="4.6"/><rect x="810.95" y="119.98" width="3.3" height="4.6"/><rect x="141.45" y="98.81" width="3.3" height="4.6"/><rect x="810.95" y="98.81" width="3.3" height="4.6"/><rect x="141.45" y="82.39" width="5.4" height="4.6"/><rect x="808.85" y="82.39" width="5.4" height="4.6"/><rect x="141.45" y="68.98" width="3.3" height="4.6"/><rect x="810.95" y="68.98" width="3.3" height="4.6"/><rect x="141.45" y="57.64" width="3.3" height="4.6"/><rect x="810.95" y="57.64" width="3.3" height="4.6"/><rect x="141.45" y="47.82" width="3.3" height="4.6"/><rect x="810.95" y="47.82" width="3.3" height="4.6"/></g>
<g font-family="Liberation Serif, serif" fill="#000" style="opacity:0.999"><text x="187.80" y="34.3" font-size="35.0">b)</text><text x="315.20" y="34.3" font-size="35.0" font-style="italic">ω</text><text x="362.60" y="34.3" font-size="35.0">1</text><text x="388.40" y="34.3" font-size="35.0">k</text><text x="406.30" y="34.3" font-size="35.0">e</text><text x="420.00" y="34.3" font-size="35.0">V</text><text x="448.20" y="34.3" font-size="35.0">,</text><text x="466.40" y="34.3" font-size="35.0">I</text><text x="501.60" y="34.3" font-size="35.0">1</text><text x="520.60" y="34.3" font-size="35.0">.</text><text x="529.50" y="34.3" font-size="35.0">8</text><text x="547.10" y="34.3" font-size="35.0">6</text><text x="562.70" y="34.3" font-size="35.0">1</text><text x="580.00" y="34.3" font-size="35.0">·</text><text x="591.10" y="34.3" font-size="35.0">1</text><text x="608.00" y="34.3" font-size="35.0">0</text><text x="626.30" y="18.9" font-size="24.6">2</text><text x="638.40" y="18.9" font-size="24.6">4</text><text x="662.50" y="34.3" font-size="35.0">W</text><text x="694.20" y="34.3" font-size="35.0">c</text><text x="709.60" y="34.3" font-size="35.0">m</text><text x="753.60" y="18.9" font-size="24.6">2</text><text transform="translate(134.10,495.5) scale(1.0,1.07)" font-size="30.0">0.0</text><text transform="translate(264.06,495.5) scale(1.0,1.07)" font-size="30.0">0.1</text><text transform="translate(394.02,495.5) scale(1.0,1.07)" font-size="30.0">0.2</text><text transform="translate(523.98,495.5) scale(1.0,1.07)" font-size="30.0">0.3</text><text transform="translate(653.44,495.5) scale(1.0,1.07)" font-size="30.0">0.4</text><text transform="translate(783.90,495.5) scale(1.0,1.07)" font-size="30.0">0.5</text><text transform="translate(73.20,264.2) scale(1.0,1.07)" font-size="30.0">5000</text><text transform="translate(73.20,382.6) scale(1.0,1.07)" font-size="30.0">1000</text><text transform="translate(88.20,433.6) scale(1.0,1.07)" font-size="30.0">500</text><text transform="translate(52.00,98.1) scale(1.0,1.07)" font-size="30.0">5</text><text transform="translate(91.80,98.1) scale(1.0,1.07)" font-size="30.0">1</text><text transform="translate(105.60,98.1) scale(1.0,1.07)" font-size="30.0">0</text><text x="121.20" y="85.1" font-size="22.0">4</text><text transform="translate(51.40,215.9) scale(1.0,1.07)" font-size="30.0">1</text><text transform="translate(91.80,215.9) scale(1.0,1.07)" font-size="30.0">1</text><text transform="translate(105.60,215.9) scale(1.0,1.07)" font-size="30.0">0</text><text x="121.20" y="202.9" font-size="22.0">4</text><text transform="translate(695.20,86.0) scale(1.0,1.07)" font-size="30.0">r</text><text transform="translate(721.80,86.0) scale(1.0,1.07)" font-size="30.0">1</text><text transform="translate(738.40,86.0) scale(1.0,1.07)" font-size="30.0">,</text><text transform="translate(745.50,86.0) scale(1.0,1.07)" font-size="30.0">r</text><text transform="translate(757.00,86.0) scale(1.0,1.07)" font-size="30.0">'</text><text transform="translate(778.00,86.0) scale(1.0,1.07)" font-size="30.0">1</text><text transform="translate(695.20,115.2) scale(1.0,1.07)" font-size="30.0">r</text><text transform="translate(722.60,115.2) scale(1.0,1.07)" font-size="30.0">2</text><text transform="translate(738.40,115.2) scale(1.0,1.07)" font-size="30.0">,</text><text transform="translate(745.50,115.2) scale(1.0,1.07)" font-size="30.0">r</text><text transform="translate(757.00,115.2) scale(1.0,1.07)" font-size="30.0">'</text><text transform="translate(778.00,115.2) scale(1.0,1.07)" font-size="30.0">1</text><text transform="translate(222.30,324.5) scale(1.0,1.07)" font-size="30.0">r</text><text transform="translate(248.90,324.5) scale(1.0,1.07)" font-size="30.0">1</text><text transform="translate(265.50,324.5) scale(1.0,1.07)" font-size="30.0">,</text><text transform="translate(272.60,324.5) scale(1.0,1.07)" font-size="30.0">r</text><text transform="translate(284.10,324.5) scale(1.0,1.07)" font-size="30.0">'</text><text transform="translate(306.10,324.5) scale(1.0,1.07)" font-size="30.0">2</text><text transform="translate(222.30,353.5) scale(1.0,1.07)" font-size="30.0">r</text><text transform="translate(249.70,353.5) scale(1.0,1.07)" font-size="30.0">2</text><text transform="translate(265.50,353.5) scale(1.0,1.07)" font-size="30.0">,</text><text transform="translate(272.60,353.5) scale(1.0,1.07)" font-size="30.0">r</text><text transform="translate(284.10,353.5) scale(1.0,1.07)" font-size="30.0">'</text><text transform="translate(306.10,353.5) scale(1.0,1.07)" font-size="30.0">2</text><text transform="translate(458.80,550.2) scale(1.0,0.93)" font-size="30.0" font-style="italic">δ</text><text x="472.40" y="537.6" font-size="21.3">2</text><text x="472.40" y="557.9" font-size="21.3">2</text><text x="483.30" y="556.6" font-size="17.5">±</text><rect x="340.9" y="20.20" width="18.70" height="2.4"/><rect x="340.9" y="27.70" width="18.70" height="2.4"/><rect x="480.0" y="20.20" width="18.80" height="2.4"/><rect x="480.0" y="27.70" width="18.80" height="2.4"/><rect x="707.2" y="75.30" width="14.60" height="2.0"/><rect x="707.2" y="81.10" width="14.60" height="2.0"/><rect x="763.1" y="75.30" width="14.60" height="2.0"/><rect x="763.1" y="81.10" width="14.60" height="2.0"/><rect x="707.2" y="104.50" width="14.60" height="2.0"/><rect x="707.2" y="110.30" width="14.60" height="2.0"/><rect x="763.1" y="104.50" width="14.60" height="2.0"/><rect x="763.1" y="110.30" width="14.60" height="2.0"/><rect x="234.3" y="313.80" width="14.60" height="2.0"/><rect x="234.3" y="319.60" width="14.60" height="2.0"/><rect x="290.20000000000005" y="313.80" width="14.60" height="2.0"/><rect x="290.20000000000005" y="319.60" width="14.60" height="2.0"/><rect x="234.3" y="342.80" width="14.60" height="2.0"/><rect x="234.3" y="348.60" width="14.60" height="2.0"/><rect x="290.20000000000005" y="342.80" width="14.60" height="2.0"/><rect x="290.20000000000005" y="348.60" width="14.60" height="2.0"/><rect x="741.2" y="12.35" width="9.70" height="1.7"/><path d="M72.6,83.89999999999999 L86.0,97.3 M86.0,83.89999999999999 L72.6,97.3" stroke="#000" stroke-width="1.5" fill="none"/><path d="M72.6,201.70000000000002 L86.0,215.1 M86.0,201.70000000000002 L72.6,215.1" stroke="#000" stroke-width="1.5" fill="none"/><g transform="translate(19.3,288.6) rotate(-90)"><text x="0.00" y="0" font-size="30.0" font-style="italic">R</text><text x="19.10" y="6.3" font-size="19.5">±</text><text x="30.10" y="8.3" font-size="26">(</text><text x="36.80" y="6.3" font-size="21.3" font-style="italic">r</text><text x="45.10" y="6.3" font-size="21.3">,</text><text x="49.20" y="6.3" font-size="21.3" font-style="italic">r</text><text x="57.60" y="6.3" font-size="21.3">′</text><text x="61.80" y="8.3" font-size="26">)</text></g></g>
</svg>
</body></html>
